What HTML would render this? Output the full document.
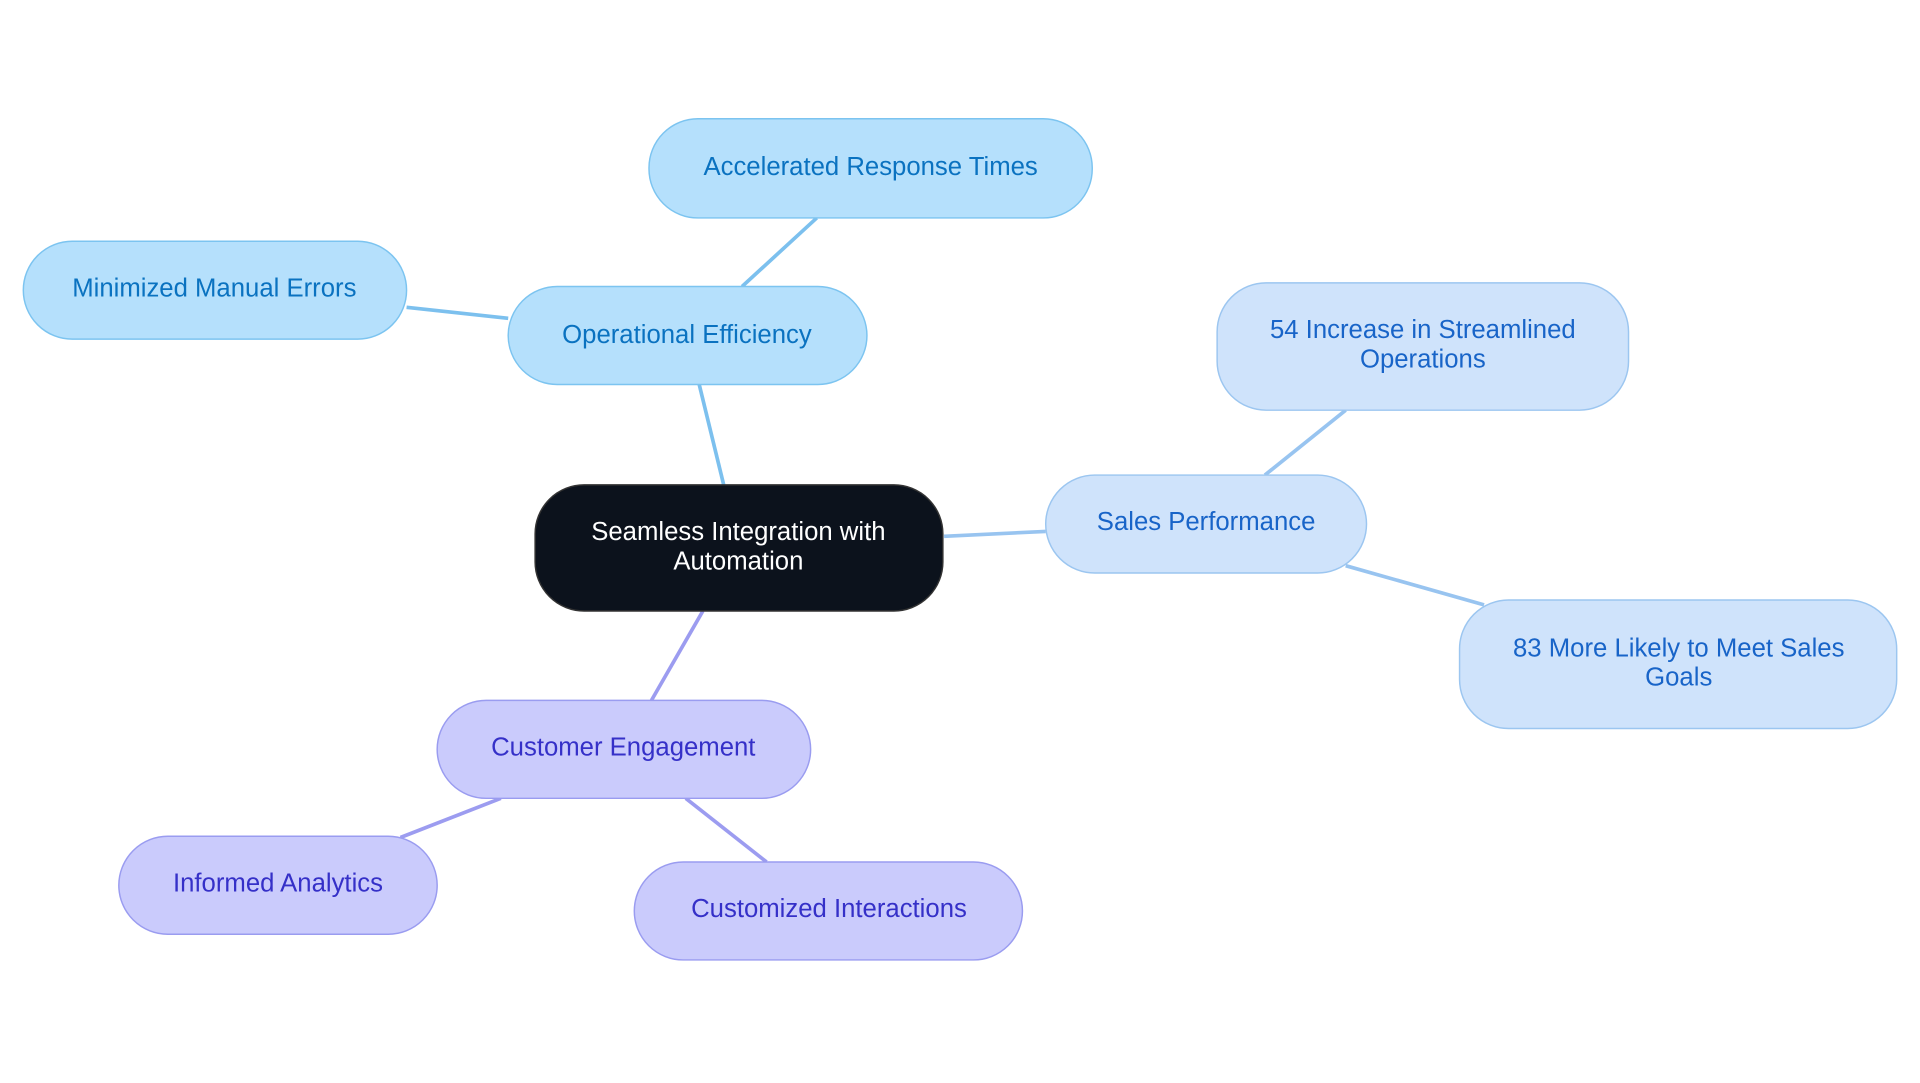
<!DOCTYPE html>
<html><head><meta charset="utf-8"><style>html,body{margin:0;padding:0;background:#fff;overflow:hidden}svg{display:block}</style></head>
<body>
<svg width="1920" height="1083" viewBox="0 0 1568 884.5" xmlns="http://www.w3.org/2000/svg" font-family="'Liberation Sans', sans-serif" font-size="21" text-anchor="middle">
<g stroke-width="3" fill="none">
<line x1="591" y1="396" x2="571" y2="314" stroke="#7cc0ee"/>
<line x1="606" y1="234" x2="667" y2="178" stroke="#7cc0ee"/>
<line x1="415" y1="260" x2="332" y2="251" stroke="#7cc0ee"/>
<line x1="771" y1="438" x2="854" y2="434" stroke="#98c4f0"/>
<line x1="1033" y1="388" x2="1099" y2="335" stroke="#98c4f0"/>
<line x1="1099" y1="462" x2="1212" y2="494" stroke="#98c4f0"/>
<line x1="574" y1="499" x2="532" y2="572" stroke="#9c9cf0"/>
<line x1="409" y1="652" x2="327" y2="684" stroke="#9c9cf0"/>
<line x1="560" y1="652" x2="626" y2="704" stroke="#9c9cf0"/>
</g>
<rect x="437" y="396" width="333" height="103" rx="40" fill="#0c121c" stroke="#333" stroke-width="1.2"/>
<text x="603" y="441" fill="#fff">Seamless Integration with</text>
<text x="603" y="465" fill="#fff">Automation</text>
<g fill="#b5e0fc" stroke="#7cc4f0" stroke-width="1.2">
<rect x="415" y="234" width="293" height="80" rx="40"/>
<rect x="530" y="97" width="362" height="81" rx="40"/>
<rect x="19" y="197" width="313" height="80" rx="40"/>
</g>
<g fill="#0a72c0">
<text x="561" y="280">Operational Efficiency</text>
<text x="711" y="143">Accelerated Response Times</text>
<text x="175" y="242">Minimized Manual Errors</text>
</g>
<g fill="#cfe3fb" stroke="#9cc6f0" stroke-width="1.2">
<rect x="854" y="388" width="262" height="80" rx="40"/>
<rect x="994" y="231" width="336" height="104" rx="40"/>
<rect x="1192" y="490" width="357" height="105" rx="40"/>
</g>
<g fill="#1864c8">
<text x="985" y="433">Sales Performance</text>
<text x="1162" y="276">54 Increase in Streamlined</text>
<text x="1162" y="300">Operations</text>
<text x="1371" y="536">83 More Likely to Meet Sales</text>
<text x="1371" y="560">Goals</text>
</g>
<g fill="#cacbfc" stroke="#9a9cf0" stroke-width="1.2">
<rect x="357" y="572" width="305" height="80" rx="40"/>
<rect x="97" y="683" width="260" height="80" rx="40"/>
<rect x="518" y="704" width="317" height="80" rx="40"/>
</g>
<g fill="#3530c8">
<text x="509" y="617">Customer Engagement</text>
<text x="227" y="728">Informed Analytics</text>
<text x="677" y="749">Customized Interactions</text>
</g>
</svg>
</body></html>
